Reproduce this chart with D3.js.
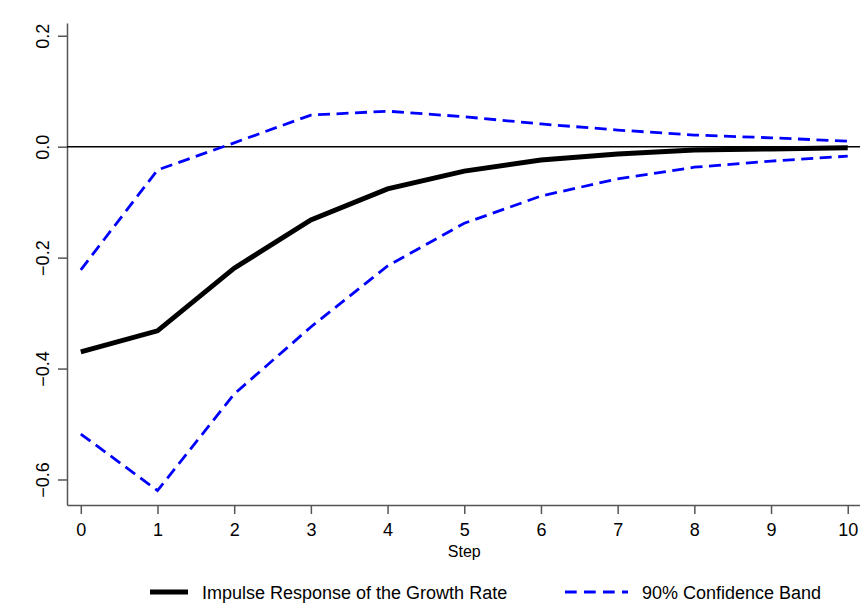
<!DOCTYPE html>
<html>
<head>
<meta charset="utf-8">
<script src="https://cdn.jsdelivr.net/npm/d3@7"></script>
<style>
  body { margin: 0; background: #fff; }
  text { font-family: "Liberation Sans", Arial, sans-serif; }
</style>
</head>
<body>
<svg id="chart" width="860" height="605"></svg>
<script>
// data
const steps = [0, 1, 2, 3, 4, 5, 6, 7, 8, 9, 10];
const impulse = [-0.370, -0.332, -0.219, -0.132, -0.076, -0.044, -0.024, -0.013, -0.006, -0.004, -0.002];
const upperBand = [-0.222, -0.042, 0.007, 0.057, 0.064, 0.054, 0.041, 0.030, 0.021, 0.016, 0.010];
const lowerBand = [-0.518, -0.620, -0.446, -0.325, -0.215, -0.138, -0.089, -0.058, -0.037, -0.026, -0.017];
const yTicks = [0.2, 0.0, -0.2, -0.4, -0.6];
const legendLabels = ['Impulse Response of the Growth Rate', '90% Confidence Band'];

const svg = d3.select('#chart');
const plotLeft = 67, plotRight = 860, plotTop = 23, plotBottom = 505;

const x = d3.scaleLinear().domain([-0.18, 10.16]).range([plotLeft, plotRight]);
const y = d3.scaleLinear().domain([-0.646, 0.223]).range([plotBottom, plotTop]);

// axes
const xAxis = svg.append('g')
    .attr('transform', `translate(0,${plotBottom})`)
    .call(d3.axisBottom(x).tickValues(steps).tickSize(9).tickPadding(5).tickSizeOuter(0));
const yAxis = svg.append('g')
    .attr('transform', `translate(${plotLeft},0)`)
    .call(d3.axisLeft(y).tickValues(yTicks).tickSize(9).tickPadding(6).tickSizeOuter(0)
        .tickFormat(d3.format('.1f')));

[xAxis, yAxis].forEach(a => {
    a.select('.domain').attr('stroke', '#555').attr('stroke-width', 1.5);
    a.selectAll('.tick line').attr('stroke', '#555').attr('stroke-width', 1.5);
    a.selectAll('.tick text').attr('fill', '#000').style('font-size', '18px')
        .style('font-family', '"Liberation Sans", Arial, sans-serif');
});

// x tick labels: baseline about 537
xAxis.selectAll('.tick text').attr('y', 31).attr('dy', 0);

// rotate y tick labels
yAxis.selectAll('.tick text')
    .attr('transform', 'rotate(-90)')
    .attr('x', 0)
    .attr('y', -18)
    .attr('dy', 0)
    .attr('text-anchor', 'middle');

svg.append('text')
    .attr('x', x(5))
    .attr('y', 557)
    .attr('text-anchor', 'middle')
    .style('font-size', '16px')
    .text('Step');

// zero line
svg.append('line')
    .attr('x1', plotLeft).attr('x2', plotRight)
    .attr('y1', y(0)).attr('y2', y(0))
    .attr('stroke', '#000').attr('stroke-width', 1.5);

const line = d3.line().x((d, i) => x(steps[i])).y(d => y(d));

[upperBand, lowerBand].forEach(band => {
    svg.append('path')
        .datum(band)
        .attr('d', line)
        .attr('fill', 'none')
        .attr('stroke', '#0000ff')
        .attr('stroke-width', 2.8)
        .attr('stroke-dasharray', '12,6.5');
});

svg.append('path')
    .datum(impulse)
    .attr('d', line)
    .attr('fill', 'none')
    .attr('stroke', '#000')
    .attr('stroke-width', 5);

// legend
const ly = 592;
svg.append('line')
    .attr('x1', 150).attr('x2', 188).attr('y1', ly).attr('y2', ly)
    .attr('stroke', '#000').attr('stroke-width', 5);
svg.append('text')
    .attr('x', 202).attr('y', 599)
    .style('font-size', '18px')
    .text(legendLabels[0]);
svg.append('line')
    .attr('x1', 565).attr('x2', 628).attr('y1', ly).attr('y2', ly)
    .attr('stroke', '#0000ff').attr('stroke-width', 2.8)
    .attr('stroke-dasharray', '11.7,7.3');
svg.append('text')
    .attr('x', 642).attr('y', 599)
    .style('font-size', '18px')
    .text(legendLabels[1]);
</script>
</body>
</html>
